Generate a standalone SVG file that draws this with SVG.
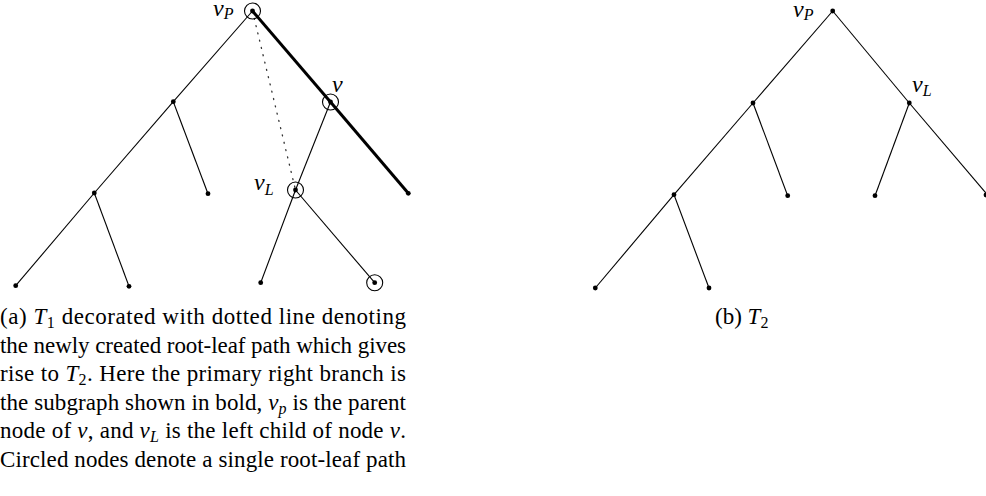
<svg xmlns="http://www.w3.org/2000/svg" width="986" height="496" viewBox="0 0 986 496">
<style>
.e{stroke:#000;stroke-width:1.1;fill:none}
.b{stroke:#000;stroke-width:3;fill:none}
.d{stroke:#333;stroke-width:1.3;fill:none;stroke-dasharray:1 6.5;stroke-linecap:round}
.n{fill:#000}
.c{stroke:#000;stroke-width:1.1;fill:none}
.t{font-family:"Liberation Serif","DejaVu Serif",serif;font-size:23px;fill:#000}
.m{font-family:"Liberation Serif","DejaVu Serif",serif;font-style:italic;font-size:24px;fill:#000}
.i{font-style:italic}
.s{font-size:16px}
</style>
<rect width="986" height="496" fill="#fff"/>
<g id="connectors">
  <!-- tree a -->
  <line class="e" x1="252.5" y1="11" x2="173.3" y2="101.7"/>
  <line class="e" x1="173.3" y1="101.7" x2="208" y2="193.7"/>
  <line class="e" x1="173.3" y1="101.7" x2="94.3" y2="193"/>
  <line class="e" x1="94.3" y1="193" x2="15.7" y2="285.7"/>
  <line class="e" x1="94.3" y1="193" x2="129" y2="286.3"/>
  <line class="b" x1="252.5" y1="11" x2="330.5" y2="102"/>
  <line class="b" x1="330.5" y1="102" x2="408.3" y2="193.3"/>
  <line class="e" x1="330.5" y1="102" x2="295.5" y2="190"/>
  <line class="e" x1="295.5" y1="190" x2="260.7" y2="282.7"/>
  <line class="e" x1="295.5" y1="190" x2="374.7" y2="282.7"/>
  <line class="d" x1="252.5" y1="11" x2="295.5" y2="190"/>
  <!-- tree b -->
  <line class="e" x1="832.7" y1="11" x2="753" y2="103"/>
  <line class="e" x1="753" y1="103" x2="787.7" y2="195.7"/>
  <line class="e" x1="753" y1="103" x2="674" y2="194.7"/>
  <line class="e" x1="674" y1="194.7" x2="595.3" y2="288"/>
  <line class="e" x1="674" y1="194.7" x2="709" y2="288"/>
  <line class="e" x1="832.7" y1="11" x2="909.3" y2="103"/>
  <line class="e" x1="909.3" y1="103" x2="875" y2="195.7"/>
  <line class="e" x1="909.3" y1="103" x2="988" y2="195.5"/>
</g>
<!-- tree a nodes -->
<g id="a-vP"><circle class="n" cx="252.5" cy="11" r="2.4"/><circle class="c" cx="252.5" cy="11" r="8"/>
  <text class="m" x="213" y="16">v<tspan class="s" dy="3" font-style="italic">P</tspan></text></g>
<g id="a-v"><circle class="n" cx="330.5" cy="102" r="2.4"/><circle class="c" cx="330.5" cy="102" r="8"/>
  <text class="m" x="332" y="92">v</text></g>
<g id="a-n1"><circle class="n" cx="173.3" cy="101.7" r="2.4"/></g>
<g id="a-n2"><circle class="n" cx="208" cy="193.7" r="2.4"/></g>
<g id="a-n3"><circle class="n" cx="94.3" cy="193" r="2.4"/></g>
<g id="a-n4"><circle class="n" cx="15.7" cy="285.7" r="2.4"/></g>
<g id="a-n5"><circle class="n" cx="129" cy="286.3" r="2.4"/></g>
<g id="a-n6"><circle class="n" cx="408.3" cy="193.3" r="2.4"/></g>
<g id="a-vL"><circle class="n" cx="295.5" cy="190" r="2.4"/><circle class="c" cx="295.5" cy="190" r="8"/>
  <text class="m" x="254" y="190">v<tspan class="s" dy="5" font-style="italic">L</tspan></text></g>
<g id="a-n7"><circle class="n" cx="260.7" cy="282.7" r="2.4"/></g>
<g id="a-n8"><circle class="n" cx="374.7" cy="282.7" r="2.4"/><circle class="c" cx="374.7" cy="282.7" r="8"/></g>
<!-- tree b nodes -->
<g id="b-vP"><circle class="n" cx="832.7" cy="11" r="2.4"/>
  <text class="m" x="793" y="17">v<tspan class="s" dy="3" font-style="italic">P</tspan></text></g>
<g id="b-n1"><circle class="n" cx="753" cy="103" r="2.4"/></g>
<g id="b-n2"><circle class="n" cx="787.7" cy="195.7" r="2.4"/></g>
<g id="b-n3"><circle class="n" cx="674" cy="194.7" r="2.4"/></g>
<g id="b-n4"><circle class="n" cx="595.3" cy="288" r="2.4"/></g>
<g id="b-n5"><circle class="n" cx="709" cy="288" r="2.4"/></g>
<g id="b-vL"><circle class="n" cx="909.3" cy="103" r="2.4"/>
  <text class="m" x="912" y="92">v<tspan class="s" dy="4" font-style="italic">L</tspan></text></g>
<g id="b-n6"><circle class="n" cx="875" cy="195.7" r="2.4"/></g>
<g id="b-n7"><circle class="n" cx="986" cy="195" r="2.4"/></g>
<!-- captions -->
<g id="caption-a">
<text class="t" x="0" y="324" textLength="406" lengthAdjust="spacing">(a) <tspan class="i">T</tspan><tspan class="s" dy="4">1</tspan><tspan dy="-4"> decorated with dotted line denoting</tspan></text>
<text class="t" x="0" y="352.5" textLength="406" lengthAdjust="spacing">the newly created root-leaf path which gives</text>
<text class="t" x="0" y="381" textLength="406" lengthAdjust="spacing">rise to <tspan class="i">T</tspan><tspan class="s" dy="4">2</tspan><tspan dy="-4">. Here the primary right branch is</tspan></text>
<text class="t" x="0" y="409.5" textLength="406" lengthAdjust="spacing">the subgraph shown in bold, <tspan class="i">v</tspan><tspan class="s i" dy="4">p</tspan><tspan dy="-4"> is the parent</tspan></text>
<text class="t" x="0" y="438" textLength="406" lengthAdjust="spacing">node of <tspan class="i">v</tspan>, and <tspan class="i">v</tspan><tspan class="s i" dy="4">L</tspan><tspan dy="-4"> is the left child of node </tspan><tspan class="i">v</tspan>.</text>
<text class="t" x="0" y="466.5" textLength="406" lengthAdjust="spacing">Circled nodes denote a single root-leaf path</text>
</g>
<g id="caption-b">
<text class="t" x="715" y="324">(b) <tspan class="i">T</tspan><tspan class="s" dy="4">2</tspan></text>
</g>
</svg>
